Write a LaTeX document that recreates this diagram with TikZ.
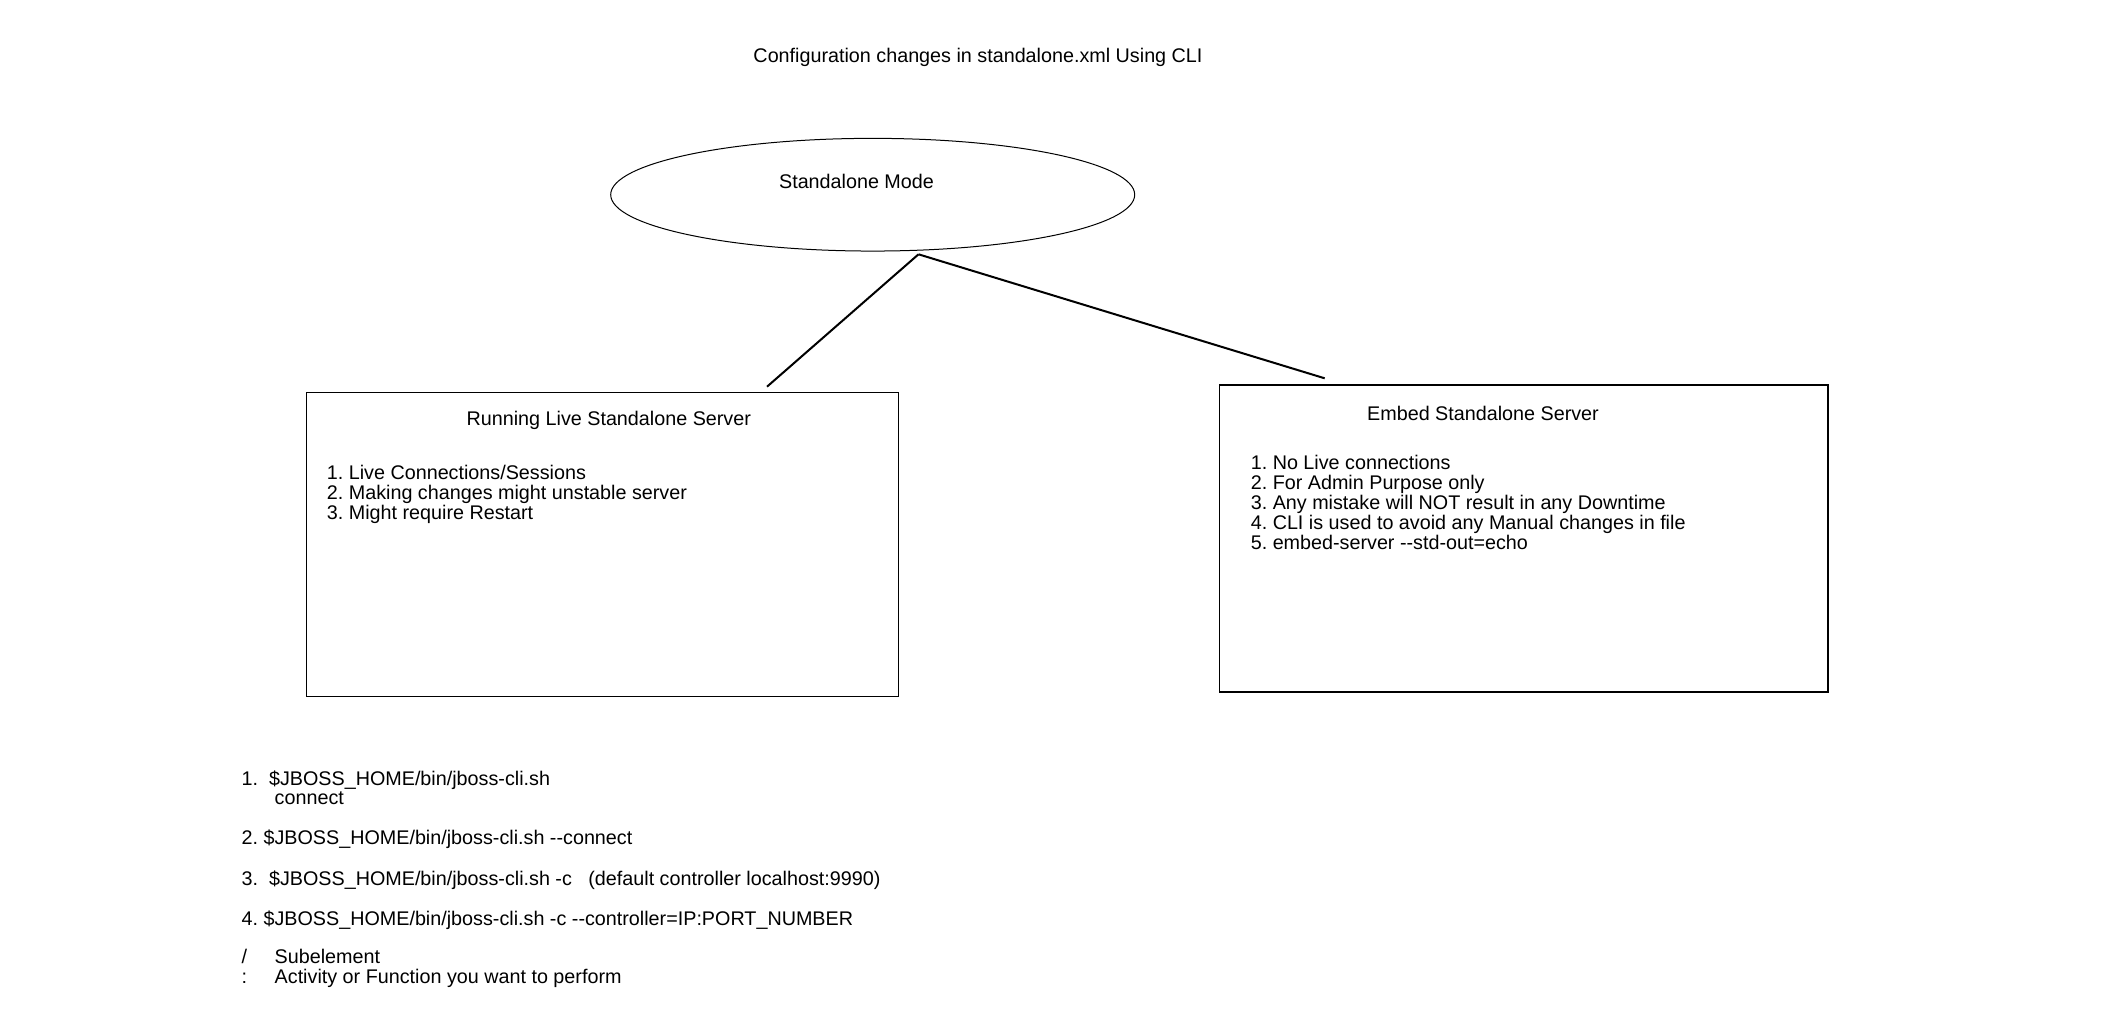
\documentclass[tikz,border=0pt]{standalone}
\usepackage{fontspec}
\setmainfont{Liberation Sans}
\usetikzlibrary{shapes.geometric}
\newcommand\dd{-\kern0pt-}
\frenchspacing
\begin{document}
\begin{tikzpicture}[x=1pt,y=-1pt,
  txt/.style={inner sep=0pt, font=\fontsize{19.75}{20}\selectfont},
  lt/.style={txt, anchor=base west},
  ct/.style={txt, anchor=base},
  boxst/.style={draw, line width=1.1pt, inner sep=0pt},
  conn/.style={line width=2pt}]
\useasboundingbox[fill=white] (0,0) rectangle (2112,1029);

\node[ct] (title) at (978,62) {Configuration changes in standalone.xml Using CLI};

\node[ellipse, draw, line width=1pt, minimum width=524pt, minimum height=112.7pt, inner sep=0pt] (mode) at (872.7,194.7) {};
\node[ct] (modelbl) at (856.5,188.7) {Standalone Mode};

\node[boxst, minimum width=592pt, minimum height=303.6pt] (live) at (602.3,544.5) {};
\node[ct] (livet) at (608.8,425.3) {Running Live Standalone Server};
\node[lt] (live1) at (326.7,479.3) {1. Live Connections/Sessions};
\node[lt] (live2) at (326.7,499.3) {2. Making changes might unstable server};
\node[lt] (live3) at (326.7,519.3) {3. Might require Restart};

\node[boxst, minimum width=608.5pt, minimum height=307pt] (embed) at (1523.75,538.5) {};
\node[ct] (embedt) at (1483,420.3) {Embed Standalone Server};
\node[lt] (emb1) at (1250.6,469.3) {1. No Live connections};
\node[lt] (emb2) at (1250.6,489.3) {2. For Admin Purpose only};
\node[lt] (emb3) at (1250.6,509.3) {3. Any mistake will NOT result in any Downtime};
\node[lt] (emb4) at (1250.6,529.3) {4. CLI is used to avoid any Manual changes in file};
\node[lt] (emb5) at (1250.6,549.3) {5. embed-server \dd std-out=echo};

\coordinate (apex) at (918.5,254.3);
\coordinate (lend) at (767,386.7);
\coordinate (rend) at (1324.7,378.3);
\draw[conn] (apex) -- (lend);
\draw[conn] (apex) -- (rend);

\node[lt] (cmd1) at (241.4,785.3) {1.\ \ \$JBOSS\_HOME/bin/jboss-cli.sh};
\node[lt] (cmd1b) at (274.5,804.3) {connect};
\node[lt] (cmd2) at (241.4,844.3) {2. \$JBOSS\_HOME/bin/jboss-cli.sh \dd connect};
\node[lt] (cmd3) at (241.4,885.3) {3.\ \ \$JBOSS\_HOME/bin/jboss-cli.sh -c\ \ \ (default controller localhost:9990)};
\node[lt] (cmd4) at (241.4,925.3) {4. \$JBOSS\_HOME/bin/jboss-cli.sh -c \dd controller=IP:PORT\_NUMBER};
\node[lt] (leg1) at (241.4,963.7) {\makebox[33.1pt][l]{/}Subelement};
\node[lt] (leg2) at (241.4,983.7) {\makebox[33.1pt][l]{:}Activity or Function you want to perform};
\end{tikzpicture}
\end{document}
